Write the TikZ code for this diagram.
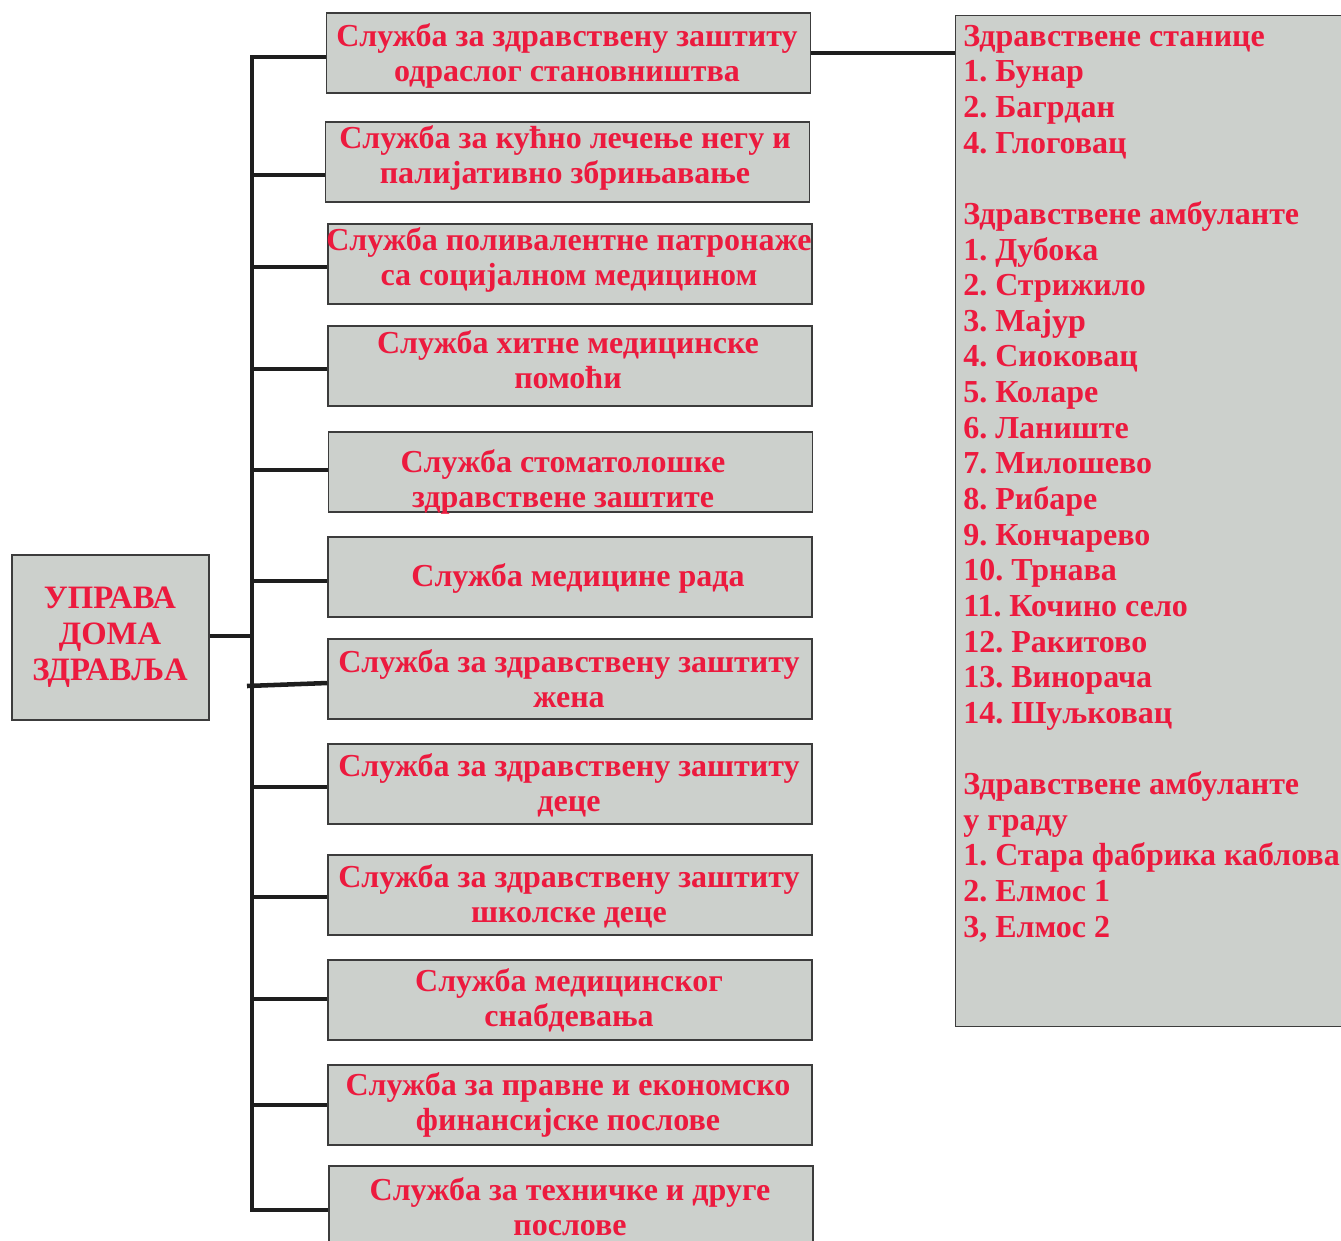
\documentclass[tikz,border=0pt]{standalone}
\usepackage{fontspec}
\setmainfont{Liberation Serif}
\frenchspacing
\definecolor{txtred}{RGB}{236,26,62}
\definecolor{boxfill}{RGB}{204,208,204}
\definecolor{boxline}{RGB}{60,60,60}
\definecolor{conncol}{RGB}{30,30,30}
\tikzset{
  svcbox/.style={draw=boxline, fill=boxfill, line width=1.1pt, rectangle, inner sep=0pt,
    minimum width=363pt, minimum height=60pt},
  svctext/.style={text=txtred, inner sep=0pt, align=center,
    font=\frenchspacing\bfseries\fontsize{24pt}{26.25pt}\selectfont},
  listtext/.style={text=txtred, inner sep=0pt, align=left,
    font=\frenchspacing\bfseries\fontsize{24pt}{26.73pt}\selectfont},
  conn/.style={draw=conncol, line width=3.4pt, line join=miter},
}
\begin{document}
\begin{tikzpicture}[x=0.75pt,y=-0.75pt]
\useasboundingbox (0,0) rectangle (1341,1240);
\clip (0,0) rectangle (1341,1240);
% head box
\node[svcbox, minimum width=147.75pt, minimum height=123.75pt] (b0) at (110.5,637.5) {};
\node[svctext, font=\frenchspacing\bfseries\fontsize{24.5pt}{27pt}\selectfont] (t0) at (110,637) {\strut УПРАВА\\ДОМА\\ЗДРАВЉА\strut};
% service boxes
\node[svcbox] (b1) at (568.5,53) {};
\node[svcbox] (b2) at (567.5,162) {};
\node[svcbox] (b3) at (570,264) {};
\node[svcbox] (b4) at (570,366) {};
\node[svcbox] (b5) at (570.5,472) {};
\node[svcbox] (b6) at (570,577) {};
\node[svcbox] (b7) at (570,679) {};
\node[svcbox] (b8) at (570,784) {};
\node[svcbox] (b9) at (570,895) {};
\node[svcbox] (b10) at (570,1000) {};
\node[svcbox] (b11) at (570,1105) {};
\node[svcbox] (b12) at (571,1206) {};
\node[svctext] (t1) at (567,56.5) {\strut Служба за здравствену заштиту\\одраслог становништва\strut};
\node[svctext] (t2) at (565,158.5) {\strut Служба за кућно лечење негу и\\палијативно збрињавање\strut};
\node[svctext] (t3) at (569,261) {\strut Служба поливалентне патронаже\\са социјалном медицином\strut};
\node[svctext] (t4) at (568,363.5) {\strut Служба хитне медицинске\\помоћи\strut};
\node[svctext] (t5) at (563,482.5) {\strut Служба стоматолошке\\здравствене заштите\strut};
\node[svctext] (t6) at (578,579) {\strut Служба медицине рада\strut};
\node[svctext] (t7) at (569,682.5) {\strut Служба за здравствену заштиту\\жена\strut};
\node[svctext] (t8) at (569,786.5) {\strut Служба за здравствену заштиту\\деце\strut};
\node[svctext] (t9) at (569,898) {\strut Служба за здравствену заштиту\\школске деце\strut};
\node[svctext] (t10) at (569,1002) {\strut Служба медицинског\\снабдевања\strut};
\node[svctext] (t11) at (568,1106) {\strut Служба за правне и економско\\финансијске послове\strut};
\node[svctext] (t12) at (570,1211) {\strut Служба за техничке и друге\\послове\strut};
% right box
\node[svcbox, anchor=north west, minimum width=292.5pt, minimum height=758.25pt] (r) at (955,15) {};
\node[listtext, anchor=north west] (rt) at (963,21) {\strut Здравствене станице\\
1. Бунар\\
2. Багрдан\\
4. Глоговац\\
\mbox{}\\
Здравствене амбуланте\\
1. Дубока\\
2. Стрижило\\
3. Мајур\\
4. Сиоковац\\
5. Коларе\\
6. Ланиште\\
7. Милошево\\
8. Рибаре\\
9. Кончарево\\
10. Трнава\\
11. Кочино село\\
12. Ракитово\\
13. Винорача\\
14. Шуљковац\\
\mbox{}\\
Здравствене амбуланте\\
у граду\\
1. Стара фабрика каблова\\
2. Елмос 1\\
3, Елмос 2\strut};
% connectors
\coordinate (sp0) at (252,636);
\coordinate (j1) at (252,57);
\coordinate (j2) at (252,175);
\coordinate (j3) at (252,267);
\coordinate (j4) at (252,369);
\coordinate (j5) at (252,470);
\coordinate (j6) at (252,581);
\coordinate (j7) at (247,686);
\coordinate (j8) at (252,787);
\coordinate (j9) at (252,897);
\coordinate (j10) at (252,999);
\coordinate (j11) at (252,1105);
\coordinate (j12) at (252,1210);
\draw[conn] (j1 -| b1.west) -- (j1) -- (j12) -- (j12 -| b12.west);
\draw[conn] (b0.east |- sp0) -- (sp0);
\draw[conn] (j2) -- (j2 -| b2.west);
\draw[conn] (j3) -- (j3 -| b3.west);
\draw[conn] (j4) -- (j4 -| b4.west);
\draw[conn] (j5) -- (j5 -| b5.west);
\draw[conn] (j6) -- (j6 -| b6.west);
\draw[conn] (j7) -- ([yshift=-3pt]b7.west);
\draw[conn] (j8) -- (j8 -| b8.west);
\draw[conn] (j9) -- (j9 -| b9.west);
\draw[conn] (j10) -- (j10 -| b10.west);
\draw[conn] (j11) -- (j11 -| b11.west);
\draw[conn] (b1.east) -- (b1.east -| r.west);
\end{tikzpicture}
\end{document}
